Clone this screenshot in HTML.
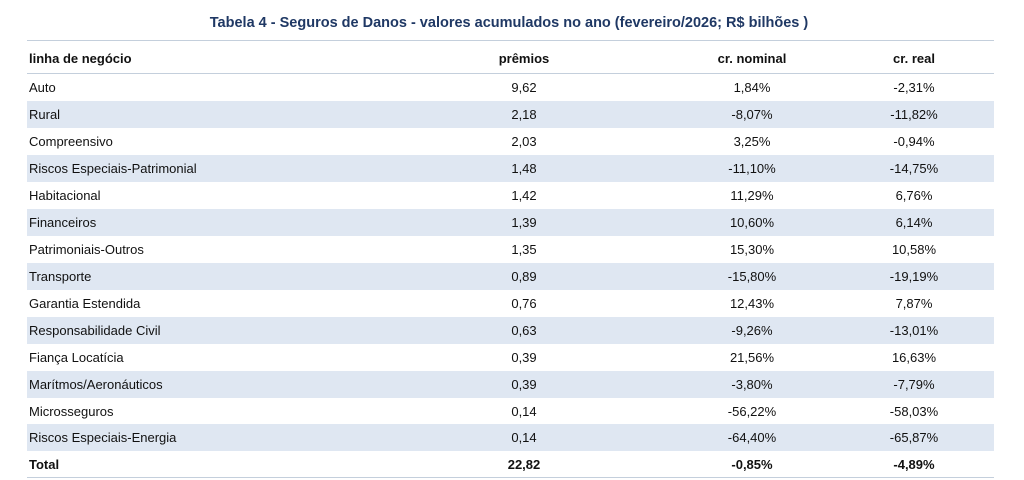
<!DOCTYPE html>
<html><head><meta charset="utf-8"><style>
body{margin:0;width:1024px;height:480px;background:#fff;font-family:"Liberation Sans",sans-serif;color:#111;position:relative;overflow:hidden}
.title{position:absolute;top:15px;left:0;width:1018px;text-align:center;font-weight:bold;font-size:14.5px;color:#1f3864}
.tl{position:absolute;left:27px;width:967px;height:1px;background:#c4cfdc}
.row{position:absolute;left:27px;width:967px;height:27px;font-size:13px;line-height:27px}
.row.s{background:#dfe7f2}
.row span{position:absolute;top:0}
.c0{left:2px}
.c1{left:422px;width:150px;text-align:center}
.c2{left:650px;width:150px;text-align:center}
.c3{left:812px;width:150px;text-align:center}
.b{font-weight:bold}
</style></head><body>
<div class="title">Tabela 4 - Seguros de Danos - valores acumulados no ano (fevereiro/2026; R$ bilhões )</div>
<div class="tl" style="top:40px"></div>
<div class="row b" style="top:45px"><span class="c0">linha de negócio</span><span class="c1">prêmios</span><span class="c2">cr. nominal</span><span class="c3">cr. real</span></div>
<div class="tl" style="top:73px"></div>
<div class="row" style="top:74px"><span class="c0">Auto</span><span class="c1">9,62</span><span class="c2">1,84%</span><span class="c3">-2,31%</span></div>
<div class="row s" style="top:101px"><span class="c0">Rural</span><span class="c1">2,18</span><span class="c2">-8,07%</span><span class="c3">-11,82%</span></div>
<div class="row" style="top:128px"><span class="c0">Compreensivo</span><span class="c1">2,03</span><span class="c2">3,25%</span><span class="c3">-0,94%</span></div>
<div class="row s" style="top:155px"><span class="c0">Riscos Especiais-Patrimonial</span><span class="c1">1,48</span><span class="c2">-11,10%</span><span class="c3">-14,75%</span></div>
<div class="row" style="top:182px"><span class="c0">Habitacional</span><span class="c1">1,42</span><span class="c2">11,29%</span><span class="c3">6,76%</span></div>
<div class="row s" style="top:209px"><span class="c0">Financeiros</span><span class="c1">1,39</span><span class="c2">10,60%</span><span class="c3">6,14%</span></div>
<div class="row" style="top:236px"><span class="c0">Patrimoniais-Outros</span><span class="c1">1,35</span><span class="c2">15,30%</span><span class="c3">10,58%</span></div>
<div class="row s" style="top:263px"><span class="c0">Transporte</span><span class="c1">0,89</span><span class="c2">-15,80%</span><span class="c3">-19,19%</span></div>
<div class="row" style="top:290px"><span class="c0">Garantia Estendida</span><span class="c1">0,76</span><span class="c2">12,43%</span><span class="c3">7,87%</span></div>
<div class="row s" style="top:317px"><span class="c0">Responsabilidade Civil</span><span class="c1">0,63</span><span class="c2">-9,26%</span><span class="c3">-13,01%</span></div>
<div class="row" style="top:344px"><span class="c0">Fiança Locatícia</span><span class="c1">0,39</span><span class="c2">21,56%</span><span class="c3">16,63%</span></div>
<div class="row s" style="top:371px"><span class="c0">Marítmos/Aeronáuticos</span><span class="c1">0,39</span><span class="c2">-3,80%</span><span class="c3">-7,79%</span></div>
<div class="row" style="top:398px"><span class="c0">Microsseguros</span><span class="c1">0,14</span><span class="c2">-56,22%</span><span class="c3">-58,03%</span></div>
<div class="row s" style="top:424px"><span class="c0">Riscos Especiais-Energia</span><span class="c1">0,14</span><span class="c2">-64,40%</span><span class="c3">-65,87%</span></div>
<div class="row b" style="top:451px"><span class="c0">Total</span><span class="c1">22,82</span><span class="c2">-0,85%</span><span class="c3">-4,89%</span></div>
<div class="tl" style="top:477px"></div>
</body></html>
